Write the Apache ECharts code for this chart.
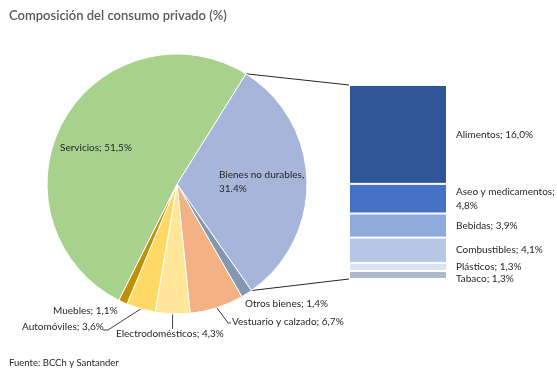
<!DOCTYPE html>
<html><head><meta charset="utf-8">
<script src="https://cdn.jsdelivr.net/npm/echarts@6/dist/echarts.min.js"></script>
<style>html,body{margin:0;padding:0;background:#fff}#c{width:557px;height:368px}</style>
</head><body><div id="c"></div>
<script>
// ---- data ----
const pieNames = ['Bienes no durables','Otros bienes','Vestuario y calzado','Electrodomésticos','Automóviles','Muebles','Servicios'];
const pieValues = [31.4, 1.4, 6.7, 4.3, 3.6, 1.1, 51.5];
const barNames = ['Alimentos','Aseo y medicamentos','Bebidas','Combustibles','Plásticos','Tabaco'];
const barValues = [16.0, 4.8, 3.9, 4.1, 1.3, 1.3];

// ---- styles ----
const pieColors = ['#A8B5DB','#8497B0','#F4B183','#FFE699','#FFD966','#BF9000','#A9D18E'];
const barColors = ['#2F5597','#4472C4','#8FAADC','#B4C7E7','#DAE3F3','#ADB9CA'];
const FONT = 'Lato';
const center = [177, 184], R = 130, startDeg = 32; // clockwise from 12 o'clock
const grid = {left: 349, top: 85, width: 98, height: 194};

// label placement (layout only)
const labelPos = {
  'Servicios': {x: 60, y: 148, line: null},
  'Bienes no durables': {x: 219, y: 182, line: null},
  'Otros bienes': {x: 245, y: 304, line: null},
  'Vestuario y calzado': {x: 232, y: 322, line: 'diag'},
  'Electrodomésticos': {x: 116, y: 334, line: 'vert'},
  'Automóviles': {x: 22, y: 327, line: 'diagL'},
  'Muebles': {x: 53, y: 311, line: null}
};

const total = pieValues.reduce((a,b)=>a+b,0);
function pt(deg, r){const a=deg*Math.PI/180;return [center[0]+r*Math.sin(a), center[1]-r*Math.cos(a)];}
const midDeg = []; let acc = startDeg;
pieValues.forEach(v=>{const s=v/total*360; midDeg.push(acc+s/2); acc+=s;});
const bienesEnd = startDeg + pieValues[0]/total*360;

const chart = echarts.init(document.getElementById('c'));
const barSeries = barNames.map((n,i)=>({
  type:'bar', name:n, stack:'b', barWidth:'100%', xAxisIndex:0, yAxisIndex:0,
  data:[barValues[i]],
  itemStyle:{color:barColors[i], borderColor:'#fff', borderWidth:1},
  label:{show:true, position:'right', distance:9, color:'#262626', fontFamily:FONT, fontSize:10, lineHeight:14,
    offset: n==='Tabaco'?[0,4]:[0,0],
    formatter: p => n==='Aseo y medicamentos' ? n+';\n'+barValues[i].toFixed(1).replace('.',',')+'%' : n+'; '+barValues[i].toFixed(1).replace('.',',')+'%'}
}));

const p1 = pt(startDeg, R), p2 = pt(bienesEnd, R);

chart.setOption({
  animation:false,
  title:[{text:'Composición del consumo privado (%)', left:4, top:4, textStyle:{fontFamily:FONT, fontSize:13, fontWeight:600, color:'#595959'}},
         {text:'Fuente: BCCh y Santander', left:4, top:353, textStyle:{fontFamily:FONT, fontSize:9.5, fontWeight:'normal', color:'#262626'}}],
  grid:{left:grid.left, top:grid.top, width:grid.width, height:grid.height},
  xAxis:{type:'category', data:['Bienes no durables'], show:false},
  yAxis:{type:'value', min:0, max:barValues.reduce((a,b)=>a+b,0), inverse:true, show:false},
  series:[{
    type:'pie', center:center, radius:R, startAngle:90-startDeg, clockwise:true,
    data: pieNames.map((n,i)=>({name:n, value:pieValues[i], itemStyle:{color:pieColors[i]}})),
    itemStyle:{borderColor:'#fff', borderWidth:1},
    label:{show:true, overflow:'none', color:'#262626', fontFamily:FONT, fontSize:10, lineHeight:14,
      formatter: p => p.name==='Bienes no durables' ? p.name+',\n'+p.value.toFixed(1)+'%' : p.name+'; '+p.value.toFixed(1).replace('.',',')+'%'},
    labelLine:{show:true, length:10, length2:5, lineStyle:{color:'#404040', width:1}},
    labelLayout: function(params){
      const n = pieNames[params.dataIndex];
      const lp = labelPos[n];
      const out = {x: lp.x, y: lp.y, align:'left', verticalAlign:'middle'};
      const s = pt(midDeg[params.dataIndex], R);
      if (lp.line==='diag') out.labelLinePoints=[s,[lp.x-4,lp.y+1],[lp.x-1,lp.y+1]];
      else if (lp.line==='vert') out.labelLinePoints=[s,[s[0],lp.y-5],[s[0],lp.y-5]];
      else if (lp.line==='diagL') out.labelLinePoints=[s,[lp.x+86,lp.y+3],[lp.x+81,lp.y+3]];
      else out.labelLinePoints=[s,s,s];
      return out;
    }
  }].concat(barSeries),
  graphic:[
    {type:'line', shape:{x1:p1[0], y1:p1[1], x2:grid.left, y2:grid.top}, style:{stroke:'#262626', lineWidth:1}},
    {type:'line', shape:{x1:p2[0], y1:p2[1], x2:grid.left, y2:grid.top+grid.height}, style:{stroke:'#262626', lineWidth:1}}
  ]
});
</script></body></html>
